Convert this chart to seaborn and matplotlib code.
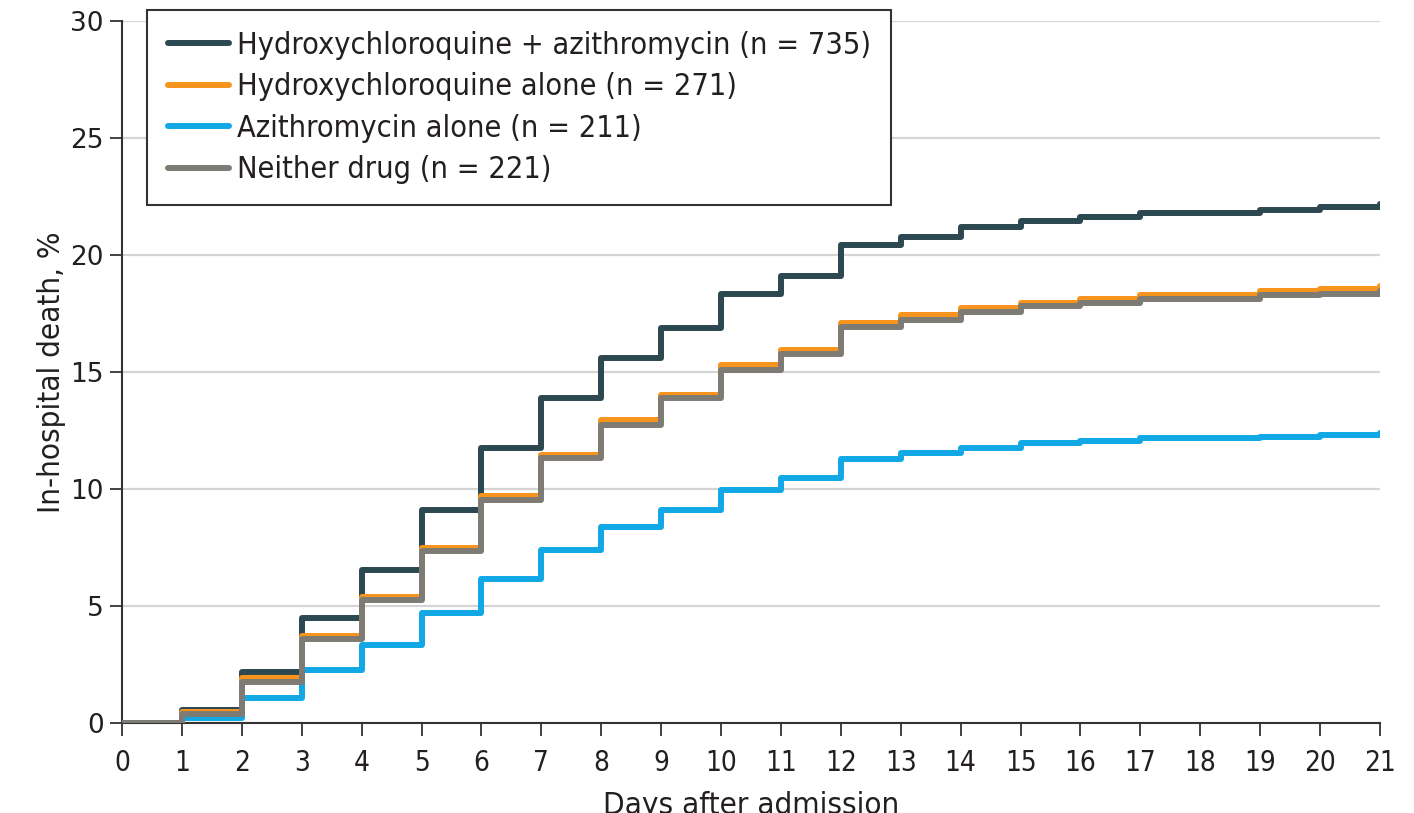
import numpy as np
import pandas as pd
import matplotlib
matplotlib.use("Agg")
import matplotlib.pyplot as plt
import seaborn as sns

# ---- data (cumulative in-hospital death, %) ----
days = list(range(0, 22))
groups = [
    "Hydroxychloroquine + azithromycin (n = 735)",
    "Hydroxychloroquine alone (n = 271)",
    "Azithromycin alone (n = 211)",
    "Neither drug (n = 221)",
]
hcq_azi = [0, 0.55, 2.2, 4.47, 6.55, 9.12, 11.76, 13.87, 15.6, 16.9, 18.32, 19.12,
           20.42, 20.78, 21.2, 21.47, 21.62, 21.81, 21.81, 21.92, 22.04, 22.18]
hcq = [0, 0.45, 1.94, 3.72, 5.4, 7.5, 9.71, 11.45, 12.95, 14.02, 15.3, 15.94,
       17.1, 17.43, 17.75, 17.96, 18.1, 18.29, 18.29, 18.47, 18.55, 18.68]
azi = [0, 0.23, 1.08, 2.26, 3.35, 4.69, 6.15, 7.39, 8.37, 9.1, 9.96, 10.48,
       11.27, 11.52, 11.77, 11.95, 12.05, 12.17, 12.17, 12.24, 12.3, 12.38]
neither = [0, 0.4, 1.77, 3.58, 5.26, 7.36, 9.53, 11.31, 12.75, 13.87, 15.1, 15.77,
           16.92, 17.22, 17.57, 17.8, 17.94, 18.1, 18.1, 18.27, 18.35, 18.47]
colors = ["#2c4850", "#f7941d", "#12a8e6", "#7e7a74"]
x_ticks = list(range(0, 22))
y_ticks = [0, 5, 10, 15, 20, 25, 30]

df = pd.concat([
    pd.DataFrame({"day": days, "pct": vals, "group": g})
    for g, vals in zip(groups, [hcq_azi, hcq, azi, neither])
])

sns.set_theme(style="white")
plt.rcParams["font.family"] = ["DejaVu Sans"]
txt = "#231f20"

fig = plt.figure(figsize=(14.14, 8.13), dpi=100)
ax = fig.add_axes([122 / 1414, 90 / 813, 1258 / 1414, 702 / 813])

sns.lineplot(data=df, x="day", y="pct", hue="group", hue_order=groups,
             palette=colors, drawstyle="steps-post", linewidth=4.3,
             ax=ax, legend=True, estimator=None, zorder=3)

ax.set_xlim(0, 21)
ax.set_ylim(0, 30)
ax.set_xticks(x_ticks)
ax.set_yticks(y_ticks)
ax.set_xticklabels([str(t) for t in x_ticks], fontsize=20, color=txt,
                   fontstretch="condensed")
ax.set_yticklabels([str(t) for t in y_ticks], fontsize=19, color=txt)
ax.yaxis.grid(True, color="#d4d4d4", linewidth=1.6, zorder=0)
ax.xaxis.grid(False)
for s in ["top", "right"]:
    ax.spines[s].set_visible(False)
for s in ["left", "bottom"]:
    ax.spines[s].set_color("#333333")
    ax.spines[s].set_linewidth(1.5)
ax.tick_params(axis="both", direction="out", length=9, width=1.3,
               color="#333333", bottom=True, left=True)
ax.tick_params(axis="x", pad=10)
ax.tick_params(axis="y", pad=4)

ax.set_ylabel("In-hospital death, %", fontsize=22.5, color=txt, labelpad=3,
              fontstretch="condensed")
ax.set_xlabel("Days after admission", fontsize=22.5, color=txt, labelpad=10,
              fontstretch="condensed")

handles, labels = ax.get_legend_handles_labels()
leg = ax.legend(handles, labels, loc="upper left",
                bbox_to_anchor=(147 / 1414, 1 - 10 / 813),
                bbox_transform=fig.transFigure, borderaxespad=0,
                frameon=True, fancybox=False, framealpha=1,
                edgecolor="#333333", handlelength=2.0,
                handletextpad=0.25, labelspacing=0.41, borderpad=0.68,
                prop={"size": 22, "stretch": "condensed"})
leg.get_frame().set_linewidth(1.5)
for t in leg.get_texts():
    t.set_color(txt)
for lh in leg.get_lines():
    lh.set_linewidth(4.3)

fig.savefig("out.png", dpi=100)
